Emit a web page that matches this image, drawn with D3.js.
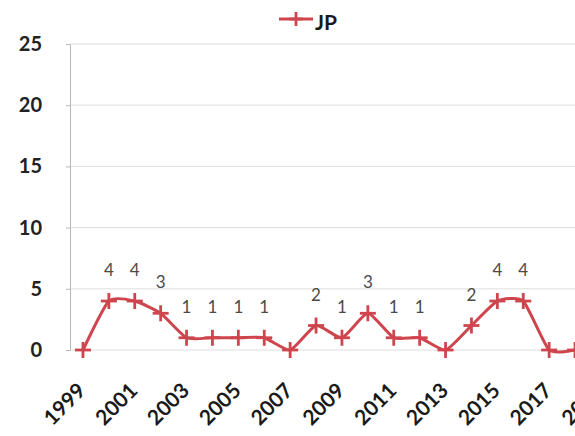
<!DOCTYPE html>
<html>
<head>
<meta charset="utf-8">
<script src="https://cdn.jsdelivr.net/npm/d3@7"></script>
<style>
  html, body { margin: 0; padding: 0; background: #fff; }
  svg { display: block; }
</style>
</head>
<body>
<script>
// Yearly counts for JP
const years = ["1999","2000","2001","2002","2003","2004","2005","2006","2007","2008",
               "2009","2010","2011","2012","2013","2014","2015","2016","2017","2018","2019"];
const jpValues = [0, 4, 4, 3, 1, 1, 1, 1, 0, 2, 1, 3, 1, 1, 0, 2, 4, 4, 0, 0, null];
const yTicks = [0, 5, 10, 15, 20, 25];
const seriesName = "JP";

const W = 575, H = 436;
const red = "#cf454d";
const fontFam = "Lato, 'Open Sans', 'Liberation Sans', sans-serif";

const svg = d3.select("body").append("svg")
  .attr("width", W).attr("height", H);

const axisX = 70;
const x = d3.scaleBand().domain(years).range([axisX, axisX + 25.9 * years.length]);
const y = d3.scaleLinear().domain([0, 25]).range([350, 44]);

// horizontal gridlines
svg.append("g").selectAll("line").data(yTicks).join("line")
  .attr("x1", axisX).attr("x2", W)
  .attr("y1", d => y(d)).attr("y2", d => y(d))
  .attr("stroke", "#dedede").attr("stroke-width", 1);

// vertical value axis
const yAxis = d3.axisLeft(y).tickValues(yTicks).tickSize(4).tickPadding(24);
const gy = svg.append("g").attr("transform", `translate(${axisX},0)`).call(yAxis);
gy.select(".domain").attr("stroke", "#b8b8b8");
gy.selectAll(".tick line").attr("stroke", "#b8b8b8");
gy.selectAll(".tick text")
  .attr("fill", "#222").attr("font-family", fontFam)
  .attr("font-weight", "bold").attr("font-size", 20);

// category labels on odd years, rotated
const xAxis = d3.axisBottom(x)
  .tickValues(years.filter((d, i) => i % 2 === 0))
  .tickSize(0).tickPadding(0);
const gx = svg.append("g").attr("transform", `translate(0,${y(0)})`).call(xAxis);
gx.select(".domain").remove();
gx.selectAll(".tick text")
  .attr("fill", "#1a1a1a").attr("font-family", fontFam)
  .attr("font-weight", "bold").attr("font-size", 21)
  .attr("text-anchor", "end")
  .attr("dy", null).attr("y", 0)
  .attr("transform", "translate(4,42) rotate(-45)");

const cx = d => x(d) + x.bandwidth() / 2;
const pts = years.map((yr, i) => ({ yr, v: jpValues[i] })).filter(p => p.v !== null);

// smoothed series line
const line = d3.line()
  .x(d => cx(d.yr)).y(d => y(d.v))
  .curve(d3.curveCardinal.tension(0.45));
svg.append("path").datum(pts)
  .attr("d", line)
  .attr("fill", "none").attr("stroke", red)
  .attr("stroke-width", 3).attr("stroke-linejoin", "round");

// plus markers
function drawPlus(g, px, py, s) {
  g.append("line").attr("x1", px - s).attr("x2", px + s).attr("y1", py).attr("y2", py);
  g.append("line").attr("x1", px).attr("x2", px).attr("y1", py - s).attr("y2", py + s);
}
const mg = svg.append("g").attr("stroke", red).attr("stroke-width", 2.8);
pts.forEach(p => drawPlus(mg, cx(p.yr), y(p.v), 8));

// value labels on non-zero points
svg.append("g").selectAll("text").data(pts.filter(p => p.v > 0)).join("text")
  .attr("x", d => cx(d.yr)).attr("y", d => y(d.v) - 25)
  .attr("text-anchor", "middle")
  .attr("font-family", fontFam).attr("font-size", 17)
  .attr("fill", "#4a4a4a")
  .text(d => d.v);

// legend
const lg = svg.append("g");
lg.append("line").attr("x1", 279).attr("x2", 313).attr("y1", 19).attr("y2", 19)
  .attr("stroke", red).attr("stroke-width", 3);
const lm = lg.append("g").attr("stroke", red).attr("stroke-width", 2.8);
drawPlus(lm, 296, 19, 7);
lg.append("text").attr("x", 315).attr("y", 30)
  .attr("font-family", fontFam).attr("font-weight", "bold").attr("font-size", 21)
  .attr("fill", "#1a1a1a").text(seriesName);
</script>
</body>
</html>
